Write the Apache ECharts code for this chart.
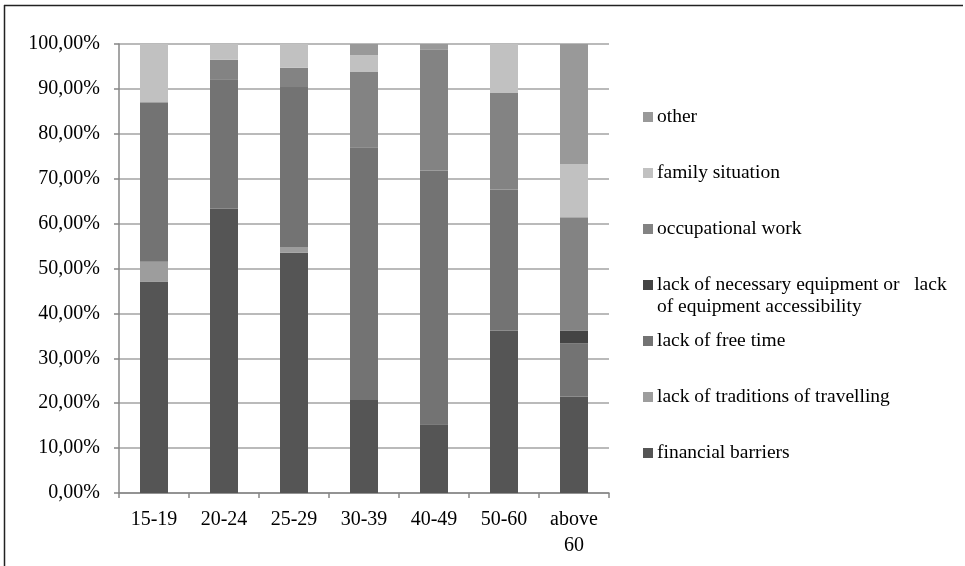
<!DOCTYPE html>
<html>
<head>
<meta charset="utf-8">
<script src="https://cdn.jsdelivr.net/npm/echarts@6/dist/echarts.min.js"></script>
<style>
html,body{margin:0;padding:0;background:#fff;}
#c{width:965px;height:566px;}
</style>
</head>
<body>
<div id="c"></div>
<script>
const categories = ['15-19', '20-24', '25-29', '30-39', '40-49', '50-60', 'above\n60'];
const financialBarriers = [47.1, 63.3, 53.5, 20.7, 15.3, 36.2, 21.5];
const lackOfTraditions = [4.4, 0, 1.3, 0, 0, 0, 0];
const lackOfFreeTime = [35.5, 28.7, 35.6, 56.3, 56.5, 31.4, 11.8];
const lackOfEquipment = [0, 0, 0, 0, 0, 0, 2.9];
const occupationalWork = [0, 4.5, 4.3, 16.9, 26.9, 21.6, 25.2];
const familySituation = [13.0, 3.5, 5.3, 3.6, 0, 10.8, 11.9];
const other = [0, 0, 0, 2.5, 1.3, 0, 26.7];
const yTicks = [0, 10, 20, 30, 40, 50, 60, 70, 80, 90, 100];

const seriesDefs = [
  {name: 'financial barriers', data: financialBarriers, color: '#555555'},
  {name: 'lack of traditions of travelling', data: lackOfTraditions, color: '#9d9d9d'},
  {name: 'lack of free time', data: lackOfFreeTime, color: '#737373'},
  {name: 'lack of necessary equipment or   lack', data: lackOfEquipment, color: '#444444'},
  {name: 'occupational work', data: occupationalWork, color: '#838383'},
  {name: 'family situation', data: familySituation, color: '#c1c1c1'},
  {name: 'other', data: other, color: '#999999'}
];

const font = 'Liberation Serif, Times New Roman, serif';
const chart = echarts.init(document.getElementById('c'));

// legend: one component per item, top-down from 'other'
const legendOrder = seriesDefs.slice().reverse();
const legends = legendOrder.map((s, i) => ({
  data: [s.name],
  left: 638,
  top: 116 + i * 56 - 16,
  itemWidth: 10,
  itemHeight: 10,
  itemGap: 0,
  selectedMode: false,
  icon: 'rect',
  textStyle: {fontFamily: font, fontSize: 19.5, color: '#000', padding: [0, 0, 0, -1], lineHeight: 24}
}));

chart.setOption({
  animation: false,
  textStyle: {fontFamily: font},
  grid: {left: 119, right: 356, top: 44, bottom: 73},
  legend: legends,
  xAxis: {
    type: 'category',
    data: categories,
    axisLine: {lineStyle: {color: '#878787', width: 1.5}},
    axisTick: {show: true, length: 5, lineStyle: {color: '#878787', width: 1.5}},
    axisLabel: {color: '#000', fontSize: 20, fontFamily: font, margin: 14, lineHeight: 26, interval: 0}
  },
  yAxis: {
    type: 'value',
    min: yTicks[0],
    max: yTicks[yTicks.length - 1],
    interval: 10,
    axisLine: {show: true, lineStyle: {color: '#878787', width: 1.5}},
    axisTick: {show: true, length: 5, lineStyle: {color: '#878787', width: 1.5}},
    splitLine: {lineStyle: {color: '#a3a3a3', width: 1.5}},
    axisLabel: {
      color: '#000', fontSize: 20, fontFamily: font, margin: 19,
      formatter: v => v.toFixed(2).replace('.', ',') + '%'
    }
  },
  graphic: [
    {type: 'line', shape: {x1: 4, y1: 5.5, x2: 963, y2: 5.5}, style: {stroke: '#222', lineWidth: 1.5}},
    {type: 'line', shape: {x1: 4.5, y1: 5, x2: 4.5, y2: 566}, style: {stroke: '#222', lineWidth: 1.5}},
    {type: 'text', left: 657, top: 297, style: {text: 'of equipment accessibility', font: '19.5px ' + font, fill: '#000'}}
  ],
  series: seriesDefs.map(s => ({
    name: s.name,
    type: 'bar',
    stack: 'total',
    barWidth: 28,
    data: s.data,
    itemStyle: {color: s.color}
  }))
});
</script>
</body>
</html>
